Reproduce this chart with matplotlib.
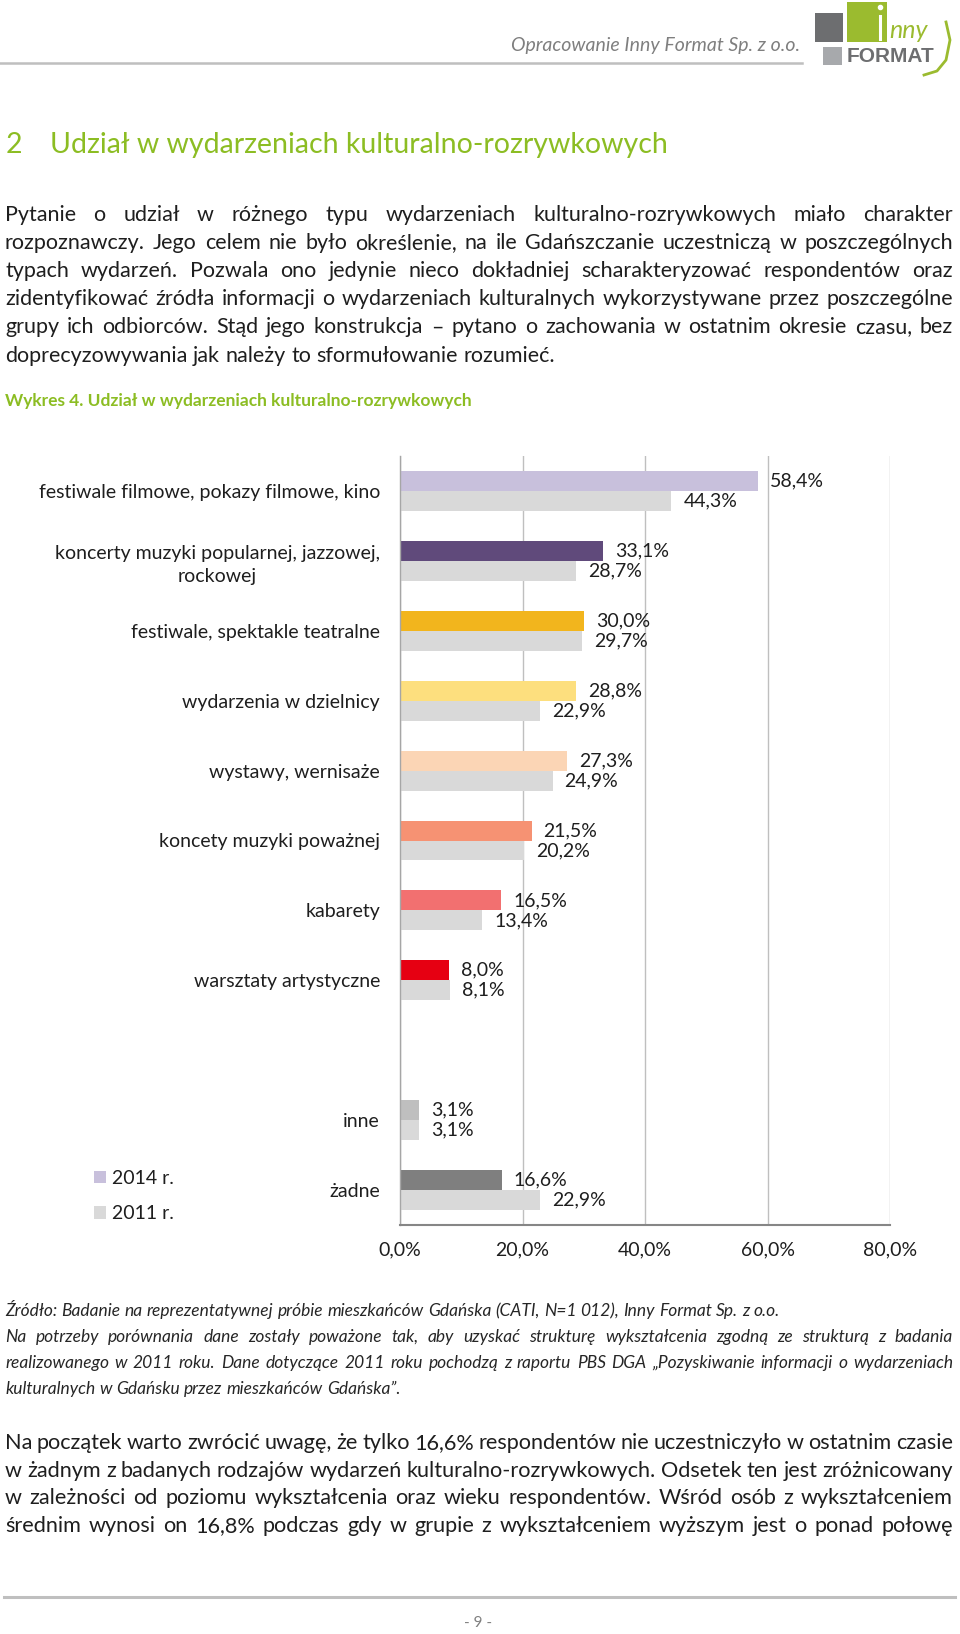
import matplotlib
matplotlib.use('Agg')
import matplotlib.pyplot as plt
import numpy as np
from matplotlib.patches import Rectangle
from matplotlib.lines import Line2D
from matplotlib.ticker import FuncFormatter

# ---------------- data ----------------
categories = [
    "festiwale filmowe, pokazy filmowe, kino",
    "koncerty muzyki popularnej, jazzowej,\nrockowej",
    "festiwale, spektakle teatralne",
    "wydarzenia w dzielnicy",
    "wystawy, wernisaże",
    "koncety muzyki poważnej",
    "kabarety",
    "warsztaty artystyczne",
    "",
    "inne",
    "żadne",
]
values_2014 = [58.4, 33.1, 30.0, 28.8, 27.3, 21.5, 16.5, 8.0, None, 3.1, 16.6]
values_2011 = [44.3, 28.7, 29.7, 22.9, 24.9, 20.2, 13.4, 8.1, None, 3.1, 22.9]
colors_2014 = ["#C8C0DC", "#604A7B", "#F2B51D", "#FDDF7E", "#FBD5B5",
               "#F69273", "#F27070", "#E60012", None, "#BFBFBF", "#7F7F7F"]
color_2011 = "#D9D9D9"
series_labels = ["2014 r.", "2011 r."]
x_ticks = [0, 20, 40, 60, 80]

# ---------------- page texts ----------------
header_text = "Opracowanie Inny Format Sp. z o.o."
section_no = "2"
section_title = "Udział w wydarzeniach kulturalno-rozrywkowych"
para1 = [
    "Pytanie o udział w różnego typu wydarzeniach kulturalno-rozrywkowych miało charakter",
    "rozpoznawczy. Jego celem nie było określenie, na ile Gdańszczanie uczestniczą w poszczególnych",
    "typach wydarzeń. Pozwala ono jedynie nieco dokładniej scharakteryzować respondentów oraz",
    "zidentyfikować źródła informacji o wydarzeniach kulturalnych wykorzystywane przez poszczególne",
    "grupy ich odbiorców. Stąd jego konstrukcja – pytano o zachowania w ostatnim okresie czasu, bez",
    "doprecyzowywania jak należy to sformułowanie rozumieć.",
]
chart_title = "Wykres 4. Udział w wydarzeniach kulturalno-rozrywkowych"
source_lines = [
    "Źródło: Badanie na reprezentatywnej próbie mieszkańców Gdańska (CATI, N=1 012), Inny Format Sp. z o.o.",
    "Na potrzeby porównania dane zostały poważone tak, aby uzyskać strukturę wykształcenia zgodną ze strukturą z badania",
    "realizowanego w 2011 roku. Dane dotyczące 2011 roku pochodzą z raportu PBS DGA „Pozyskiwanie informacji o wydarzeniach",
    "kulturalnych w Gdańsku przez mieszkańców Gdańska”.",
]
para2 = [
    "Na początek warto zwrócić uwagę, że tylko 16,6% respondentów nie uczestniczyło w ostatnim czasie",
    "w żadnym z badanych rodzajów wydarzeń kulturalno-rozrywkowych. Odsetek ten jest zróżnicowany",
    "w zależności od poziomu wykształcenia oraz wieku respondentów. Wśród osób z wykształceniem",
    "średnim wynosi on 16,8% podczas gdy w grupie z wykształceniem wyższym jest o ponad połowę",
]
page_no = "- 9 -"

FONT = "Lato"
plt.rcParams['font.family'] = [FONT, 'DejaVu Sans']
TEXT = "#1E1E1E"
GREEN = "#8CBD23"
CHART_FS = 14

W, H = 960, 1634
fig = plt.figure(figsize=(W / 100, H / 100), dpi=100)
renderer = fig.canvas.get_renderer()


def fx(x):
    return x / W


def fy(y):
    return 1 - y / H


def wd(s, kw):
    t = fig.text(0, 0, s, **kw)
    w = t.get_window_extent(renderer).width
    t.remove()
    return w


def draw_par(lines, baselines, size, style='normal', color=TEXT, justify=None, x0=5, x1=953):
    if justify is None:
        justify = [True] * (len(lines) - 1) + [False]
    kw = dict(fontsize=size, style=style, color=color)
    space = wd('a a', kw) - wd('aa', kw)
    s = 1.0
    for line in lines:
        words = line.split(' ')
        nat = sum(wd(w, kw) for w in words) + space * 0.75 * (len(words) - 1)
        if nat > (x1 - x0):
            s = min(s, (x1 - x0) / nat)
    kw['fontsize'] = size * s
    space *= s
    for line, j, yb in zip(lines, justify, baselines):
        words = line.split(' ')
        ws = [wd(w, kw) for w in words]
        gap = (x1 - x0 - sum(ws)) / (len(words) - 1) if (j and len(words) > 1) else space
        x = x0
        for w, wi in zip(words, ws):
            fig.text(fx(x), fy(yb), w, ha='left', va='baseline', **kw)
            x += wi + gap


# ---------------- header ----------------
fig.text(fx(800), fy(46), header_text, ha='right', va='center', fontsize=14,
         style='italic', color='#7F7F7F')
fig.add_artist(Line2D([fx(0), fx(802)], [fy(63), fy(63)], transform=fig.transFigure,
                      color='#BFBFBF', lw=1.8))


def prect(x0, y0, x1, y1, color):
    fig.add_artist(Rectangle((fx(x0), fy(y1)), (x1 - x0) / W, (y1 - y0) / H,
                             transform=fig.transFigure, color=color, lw=0))


prect(815, 13, 843, 42, '#6D6E70')
prect(847, 2, 887, 42, '#9BBB2F')
prect(823, 47, 842, 65, '#A7A9AC')
fig.text(fx(890), fy(57), "FORMAT", ha='center', va='center', fontsize=15,
         fontweight='bold', color='#6D6E70', family='Liberation Sans')
fig.add_artist(Line2D([fx(880), fx(880)], [fy(16), fy(39)], transform=fig.transFigure,
                      color='white', lw=2.2))
fig.add_artist(Line2D([fx(880)], [fy(7)], transform=fig.transFigure, marker='o',
                      ms=3, color='white', lw=0))
fig.text(fx(889), fy(30), "nny", ha='left', va='center', fontsize=18, style='italic',
         color='#9BBB2F')
fig.add_artist(Line2D([fx(946), fx(950), fx(946), fx(937), fx(924)],
                      [fy(22), fy(40), fy(60), fy(71), fy(75)], transform=fig.transFigure,
                      color='#9BBB2F', lw=2))

# ---------------- section title & paragraph ----------------
fig.text(fx(6), fy(145), section_no, ha='left', va='center', fontsize=20.5, color=GREEN)
fig.text(fx(50), fy(145), section_title, ha='left', va='center', fontsize=20.5, color=GREEN)

draw_par(para1, [221 + 28.1 * i for i in range(len(para1))], 15.5)

fig.text(fx(5), fy(401), chart_title, ha='left', va='center', fontsize=12.5,
         fontweight='bold', color=GREEN)

# ---------------- chart ----------------
ax = fig.add_axes([fx(400), fy(1225), (890 - 400) / W, (1225 - 456) / H])
ypos = np.arange(len(categories))
h = 0.2857
idx = [i for i, v in enumerate(values_2014) if v is not None]
b14 = ax.barh([ypos[i] - h / 2 for i in idx], [values_2014[i] for i in idx], height=h,
              color=[colors_2014[i] for i in idx], label=series_labels[0], zorder=2)
b11 = ax.barh([ypos[i] + h / 2 for i in idx], [values_2011[i] for i in idx], height=h,
              color=color_2011, label=series_labels[1], zorder=2)


def pct(v, _=None):
    return f"{v:.1f}%".replace('.', ',')


for bars, vals in ((b14, [values_2014[i] for i in idx]), (b11, [values_2011[i] for i in idx])):
    for rect, v in zip(bars, vals):
        ax.annotate(pct(v), (v, rect.get_y() + rect.get_height() / 2), xytext=(8.6, 0),
                    textcoords='offset points', ha='left', va='center', fontsize=CHART_FS,
                    color=TEXT, annotation_clip=False)

ax.set_xlim(0, 80)
ax.set_ylim(len(categories) - 0.5, -0.5)
ax.set_xticks(x_ticks)
ax.xaxis.set_major_formatter(FuncFormatter(pct))
ax.set_yticks(ypos)
ax.set_yticklabels(categories)
for lbl in ax.get_yticklabels():
    lbl.set_multialignment('center')
    lbl.set_linespacing(1.4)
ax.tick_params(axis='y', length=0, pad=14.4, labelsize=CHART_FS, labelcolor=TEXT)
ax.tick_params(axis='x', length=0, pad=12, labelsize=CHART_FS, labelcolor=TEXT)
ax.xaxis.grid(True, color='#BFBFBF', lw=1.0, zorder=0)
ax.set_axisbelow(True)
for s in ('top', 'right'):
    ax.spines[s].set_visible(False)
ax.spines['left'].set_color('#A6A6A6')
ax.spines['left'].set_linewidth(1.0)
ax.spines['bottom'].set_color('#868686')
ax.spines['bottom'].set_linewidth(1.5)

fig.legend(handles=[b14, b11], labels=series_labels, loc='center left',
           bbox_to_anchor=(fx(94), fy(1196)), frameon=False, fontsize=CHART_FS,
           handlelength=0.6, handleheight=0.6, handletextpad=0.35,
           labelspacing=0.95, borderpad=0, borderaxespad=0, labelcolor=TEXT)

# ---------------- source note ----------------
draw_par(source_lines, [1316 + 26 * i for i in range(len(source_lines))], 12.5,
         style='italic', color='#262626', justify=[False, True, True, False])

# ---------------- bottom paragraph ----------------
draw_par(para2, [1449 + 27.6 * i for i in range(len(para2))], 16,
         justify=[True, True, True, True])

# footer
fig.add_artist(Line2D([fx(4), fx(955)], [fy(1597), fy(1597)], transform=fig.transFigure,
                      color='#BFBFBF', lw=2.2))
fig.text(fx(478), fy(1623), page_no, ha='center', va='center', fontsize=11, color='#7F7F7F')

fig.savefig('out.png', dpi=100)
